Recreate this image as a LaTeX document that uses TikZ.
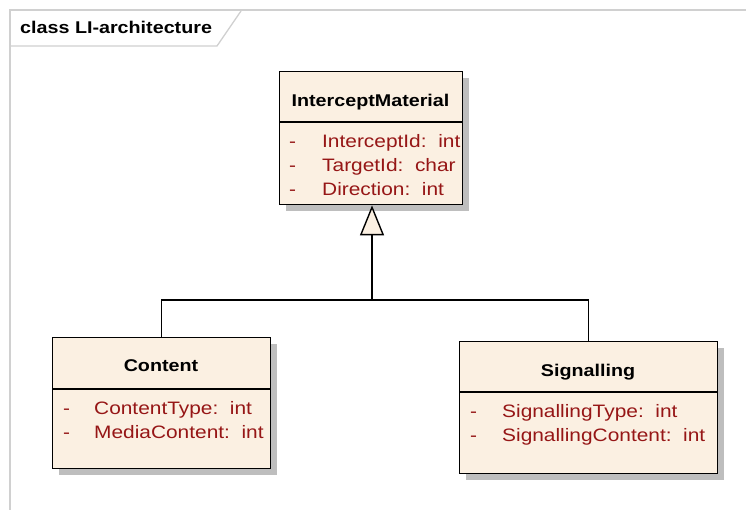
\documentclass[tikz,border=0pt]{standalone}
\usepackage{fontspec}
\setmainfont[FakeStretch=1.16]{Liberation Sans}
\usetikzlibrary{arrows.meta,shadows}

\definecolor{umlfill}{RGB}{251,240,226}
\definecolor{attrred}{RGB}{150,22,22}
\definecolor{framegray}{RGB}{208,208,208}
\definecolor{shadowgray}{RGB}{190,190,190}

\begin{document}
\begin{tikzpicture}[x=1pt,y=-1pt,
  classbox/.style={draw=black, line width=1.4pt, fill=umlfill, inner sep=0pt,
    anchor=north west,
    drop shadow={shadow xshift=6pt, shadow yshift=-6pt, fill=shadowgray, opacity=1}},
  divider/.style={draw=black, line width=1.2pt},
  classtitle/.style={inner sep=0pt, anchor=base, font=\fontsize{17}{20}\selectfont\bfseries},
  attrs/.style={inner sep=0pt, anchor=base west, text=attrred,
    font=\fontsize{18}{24}\selectfont},
  gen/.style={draw=black, line width=1.4pt,
    -{Triangle[length=30pt, width=24pt, fill=umlfill]}},
  assoc/.style={draw=black, line width=1.4pt},
  frameline/.style={draw=framegray, line width=1.3pt},
  framelabel/.style={inner sep=0pt, anchor=base west, font=\fontsize{17}{20}\selectfont\bfseries}
]
\useasboundingbox (0,0) rectangle (746,510);

% diagram frame with its name tab
\draw[frameline] (10,510) -- (10,10) -- (746,10);
\draw[frameline] (10,46) -- (217,46) -- (241,11);
\node[framelabel] (frametitle) at (20,34) {class LI-architecture};

% class InterceptMaterial
\node[classbox, minimum width=183pt, minimum height=133pt] (im) at (279,71) {};
\draw[divider] ([yshift=-51pt]im.north west) -- ([yshift=-51pt]im.north east);
\node[classtitle] (im-title) at (370.5,107) {InterceptMaterial};
\node[attrs] (im-attrs) at (289,148) {\begin{tabular}[t]{@{}p{33pt}@{}l@{}}
  - & InterceptId:\ \ int\\
  - & TargetId:\ \ char\\
  - & Direction:\ \ int
\end{tabular}};

% class Content
\node[classbox, minimum width=218pt, minimum height=131pt] (content) at (52,337) {};
\draw[divider] ([yshift=-52pt]content.north west) -- ([yshift=-52pt]content.north east);
\node[classtitle] (content-title) at (161,371) {Content};
\node[attrs] (content-attrs) at (63,414) {\begin{tabular}[t]{@{}p{31pt}@{}l@{}}
  - & ContentType:\ \ int\\
  - & MediaContent:\ \ int
\end{tabular}};

% class Signalling
\node[classbox, minimum width=258pt, minimum height=132pt] (sig) at (459,341) {};
\draw[divider] ([yshift=-51pt]sig.north west) -- ([yshift=-51pt]sig.north east);
\node[classtitle] (sig-title) at (588,376) {Signalling};
\node[attrs] (sig-attrs) at (470,417) {\begin{tabular}[t]{@{}p{32pt}@{}l@{}}
  - & SignallingType:\ \ int\\
  - & SignallingContent:\ \ int
\end{tabular}};

% generalisation tree
\coordinate (join) at (372,300);
\draw[gen] (content.north) |- (join) -- (join |- im.south);
\draw[assoc] (sig.north) |- (join);
\end{tikzpicture}
\end{document}
